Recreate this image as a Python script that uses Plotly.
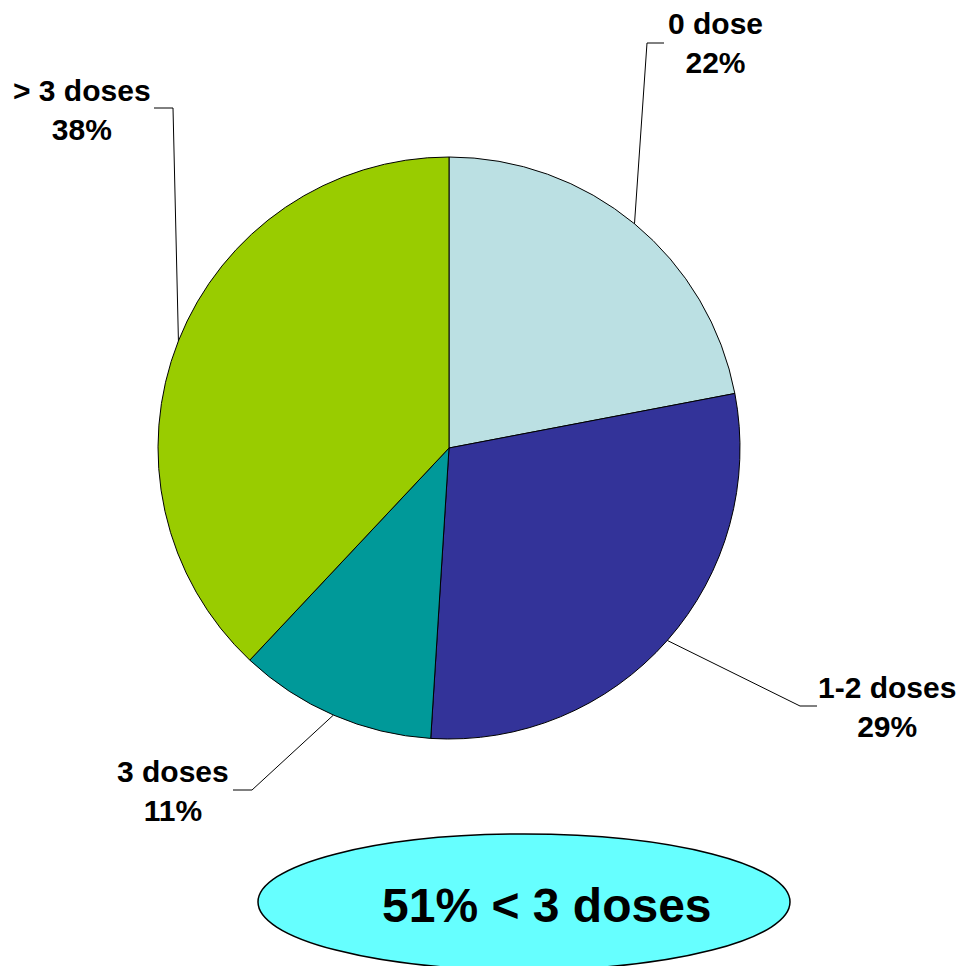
"""Vaccination doses pie — labels with elbow leader lines, summary oval."""

import math

import plotly.graph_objects as go

# page body keeps an 8px margin, so the figure is drawn 8px in
OFF = 8
W, H = 967 - OFF, 974 - 2 * OFF

categories = ["0 dose", "1-2 doses", "3 doses", "> 3 doses"]
shares = [22, 29, 11, 38]
colors = ["#BBE0E3", "#333399", "#009999", "#99CC00"]
summary_text = "51% < 3 doses"

# pie geometry in screen pixels
CX, CY, R = 449, 448, 291

# label centre and leader elbow (screen pixels) for each slice
label_pos = [(715, 43), (887, 707), (173, 791), (82, 110)]
elbows = [((647, 43), (664, 43)), ((800, 706), (817, 706)),
          ((252, 790), (233, 790)), ((173, 108), (154, 108))]


def px(x, y):
    return (x - OFF) / W, 1 - (y - OFF) / H


fig = go.Figure()
dx0, dy0 = px(CX - R, CY + R)
dx1, dy1 = px(CX + R, CY - R)
fig.add_trace(
    go.Pie(
        labels=categories,
        values=shares,
        sort=False,
        direction="clockwise",
        rotation=0,
        marker=dict(colors=colors, line=dict(color="#000000", width=1)),
        textinfo="none",
        hoverinfo="label+percent",
        showlegend=False,
        domain=dict(x=[dx0, dx1], y=[dy0, dy1]),
    )
)

total = sum(shares)
cum = 0
for cat, val, (lx, ly), (e1, e2) in zip(categories, shares, label_pos, elbows):
    mid = (cum + val / 2) / total * 2 * math.pi
    cum += val
    sx, sy = CX + R * math.sin(mid), CY - R * math.cos(mid)
    pts = [px(sx, sy), px(*e1), px(*e2)]
    path = "M {} {} L {} {} L {} {}".format(*[c for p in pts for c in p])
    fig.add_shape(type="path", path=path, xref="paper", yref="paper",
                  line=dict(color="#000000", width=1))
    ax, ay = px(lx, ly)
    pct = round(val / total * 100)
    fig.add_annotation(
        text=f"<b>{cat}</b><br><b>{pct}%</b>",
        x=ax, y=ay, xref="paper", yref="paper",
        showarrow=False, xanchor="center", yanchor="middle",
        font=dict(family="Liberation Sans, Arial", size=30, color="#000000"),
        align="center",
    )

x0, y0 = px(258, 834)
x1, y1 = px(790, 970)
fig.add_shape(type="circle", xref="paper", yref="paper",
              x0=x0, y0=y1, x1=x1, y1=y0,
              fillcolor="#66FFFF", line=dict(color="#000000", width=1.5),
              layer="below")
tx, ty = px(547, 905)
fig.add_annotation(
    text=f"<b>{summary_text}</b>", x=tx, y=ty, xref="paper", yref="paper",
    showarrow=False, xanchor="center", yanchor="middle",
    font=dict(family="Liberation Sans, Arial", size=48, color="#000000"),
)

fig.update_layout(
    width=W,
    height=H,
    margin=dict(l=0, r=0, t=0, b=0),
    paper_bgcolor="#FFFFFF",
    plot_bgcolor="#FFFFFF",
)

fig.write_html("out.html")
